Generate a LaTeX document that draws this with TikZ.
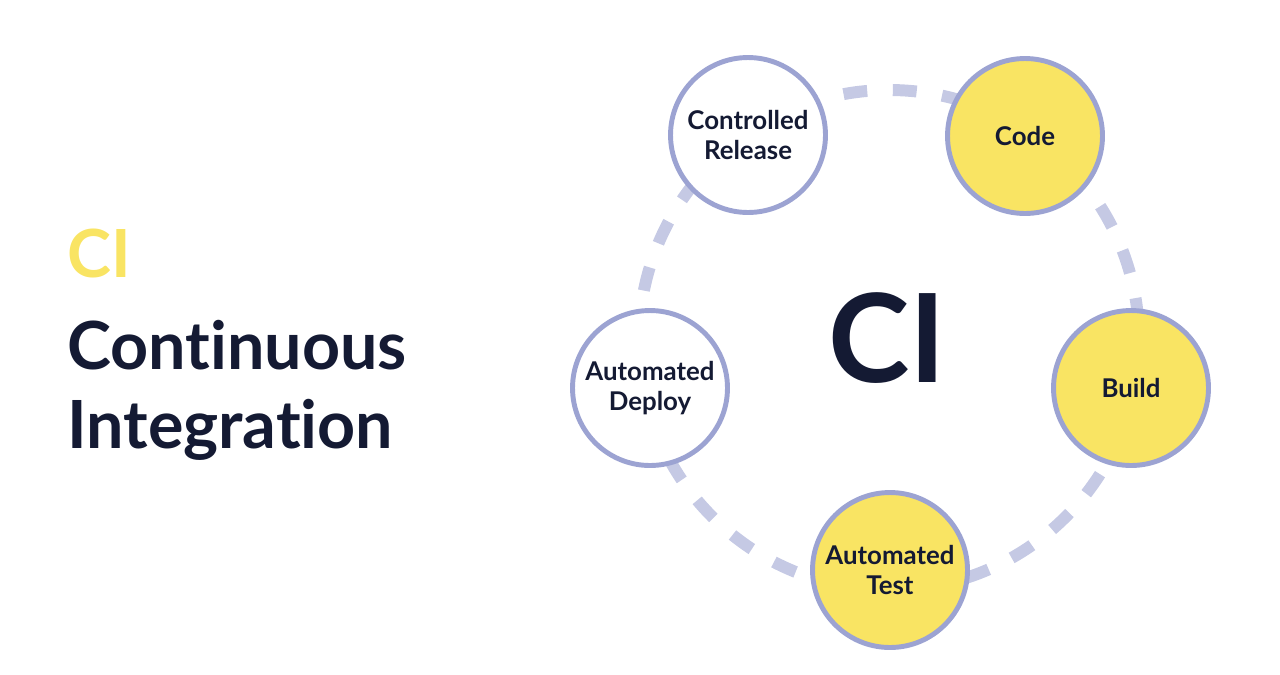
\documentclass[tikz,border=0pt]{standalone}
\usepackage{fontspec}
\setmainfont{Lato}[Ligatures=NoCommon]
\usepackage{xcolor}
\usepackage{tikz}
\usetikzlibrary{positioning,backgrounds}

\definecolor{inkdark}{HTML}{141A33}
\definecolor{ciyellow}{HTML}{F9E463}
\definecolor{ringedge}{HTML}{9CA3D2}
\definecolor{ringdash}{HTML}{C5C9E4}

\begin{document}
\begin{tikzpicture}[
  x=0.02cm, y=-0.02cm,
  stage/.style={circle, draw=ringedge, line width=2.8pt, minimum size=3.1cm,
    inner sep=0pt, align=center, text=inkdark,
    font=\bfseries\fontsize{14.7}{17.2}\selectfont},
  hot/.style={stage, fill=ciyellow},
  cold/.style={stage, fill=white},
  title/.style={anchor=base west, inner sep=0pt,
    font=\bfseries\fontsize{37.8}{44}\selectfont}
]
\useasboundingbox (0,0) rectangle (1280,674);
% left heading
\node[title, text=ciyellow] (tag) at (67,277) {CI};
\node[title, text=inkdark] (head1) at (67,369) {Continuous};
\node[title, text=inkdark] (head2) at (67,448) {Integration};
% ring
\coordinate (hub) at (889,340);
\draw[ringdash, line width=6.8pt, dash pattern=on 13.6pt off 14.6pt,
  dash phase=4pt] (hub) circle[radius=250];
\node[anchor=base, inner sep=0pt, text=inkdark,
  font=\bfseries\fontsize{70}{70}\selectfont] (big) at (887,382) {CI};
% stages
\node[hot] (code) at (1025,136) {Code};
\node[hot] (build) at (1131,388) {Build};
\node[hot] (test) at (890,570) {Automated\\Test};
\node[cold] (deploy) at (650,388) {Automated\\Deploy};
\node[cold] (release) at (748,135) {Controlled\\Release};
\end{tikzpicture}
\end{document}
